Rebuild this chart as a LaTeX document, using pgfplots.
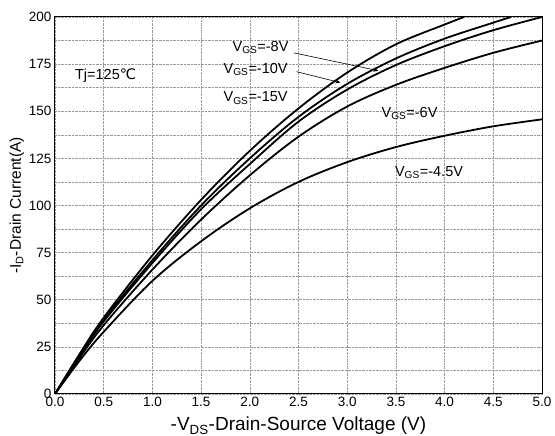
\documentclass[border=0pt]{standalone}
\usepackage{fontspec}
\setmainfont{Liberation Sans}
\newfontfamily\dejavu{DejaVu Sans}
\usepackage{pgfplots}
\pgfplotsset{compat=1.18}
\usetikzlibrary{arrows.meta}

\begin{document}
\begin{tikzpicture}
\begin{axis}[
  scale only axis,
  width=487pt, height=377pt,
  xmin=0, xmax=5, ymin=0, ymax=200,
  xtick={0,0.5,...,5},
  ytick={0,25,...,200},
  minor y tick num=1,
  grid=both,
  major grid style={densely dotted, gray!80, line width=0.5pt},
  minor grid style={densely dotted, gray!80, line width=0.5pt},
  major tick length=0pt, minor tick length=0pt,
  axis line style={black, line width=1pt},
  /pgf/number format/assume math mode=true,
  xticklabel style={/pgf/number format/.cd, fixed, fixed zerofill, precision=1},
  yticklabel style={/pgf/number format/.cd, fixed},
  tick label style={font=\fontsize{13.5}{15}\selectfont},
  xlabel={-V\textsubscript{DS}-Drain-Source Voltage (V)},
  ylabel={-I\textsubscript{D}-Drain Current(A)},
  xlabel style={font=\fontsize{19}{21}\selectfont, yshift=-3pt},
  ylabel style={font=\fontsize{15.5}{17}\selectfont, yshift=-2pt},
  curve/.style={black, line width=1.8pt, smooth, tension=0.55, mark=none},
]

% VGS=-8V (top)
\addplot[curve] coordinates {(0,0) (0.25,21) (0.5,40.5) (1.0,73.5) (1.5,103) (2.0,129) (2.5,151.5) (3.0,170.5) (3.5,185.5) (4.0,196) (4.2,200)};
% VGS=-10V
\addplot[curve] coordinates {(0,0) (0.25,20.5) (0.5,39.5) (1.0,71) (1.5,100) (2.0,125) (2.5,147) (3.0,164.5) (3.5,178) (4.0,188.5) (4.5,197) (4.68,200)};
% VGS=-15V
\addplot[curve] coordinates {(0,0) (0.25,20) (0.5,38.5) (1.0,69.5) (1.5,98) (2.0,122) (2.5,144.5) (3.0,161.5) (3.5,174.5) (4.0,184.5) (4.5,193) (5.0,200)};
% VGS=-6V
\addplot[curve] coordinates {(0,0) (0.25,19) (0.5,36.5) (1.0,66) (1.5,92.5) (2.0,116) (2.5,136.5) (3.0,152.5) (3.5,164) (4.0,173) (4.5,181) (5.0,187.5)};
% VGS=-4.5V
\addplot[curve] coordinates {(0,0) (0.25,17.5) (0.5,33) (1.0,60) (1.5,81) (2.0,98.5) (2.5,112.5) (3.0,123) (3.5,131) (4.0,137) (4.5,142) (5.0,145.7)};

% labels
\begin{scope}[every node/.style={font=\fontsize{14.5}{16}\selectfont, inner sep=0pt}]
\node at (axis cs:0.52,169) {Tj=125{\dejavu ℃}};
\node at (axis cs:2.11,184) {V\textsubscript{GS}=-8V};
\node at (axis cs:2.06,172) {V\textsubscript{GS}=-10V};
\node at (axis cs:2.06,157) {V\textsubscript{GS}=-15V};
\node at (axis cs:3.64,149) {V\textsubscript{GS}=-6V};
\node at (axis cs:3.84,117.5) {V\textsubscript{GS}=-4.5V};
\end{scope}
\draw[-{Stealth[length=5pt,width=4pt]}, line width=0.6pt] (axis cs:2.45,181) -- (axis cs:3.32,171.5);
\draw[-{Stealth[length=5pt,width=4pt]}, line width=0.6pt] (axis cs:2.48,171) -- (axis cs:2.93,165.2);
\end{axis}
\pgfresetboundingbox
\path (current axis.south west) ++(-55pt,-42pt) coordinate (bl);
\path (current axis.north east) ++(13pt,17pt) coordinate (tr);
\useasboundingbox (bl) rectangle (tr);
\end{tikzpicture}
\end{document}
